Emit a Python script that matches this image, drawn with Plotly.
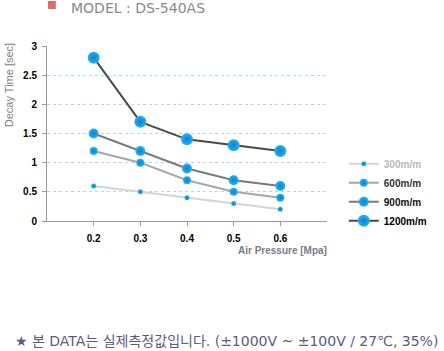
import plotly.graph_objects as go

pressure = [0.2, 0.3, 0.4, 0.5, 0.6]
series_names = ["300m/m", "600m/m", "900m/m", "1200m/m"]
decay_300 = [0.6, 0.5, 0.4, 0.3, 0.2]
decay_600 = [1.2, 1.0, 0.7, 0.5, 0.4]
decay_900 = [1.5, 1.2, 0.9, 0.7, 0.6]
decay_1200 = [2.8, 1.7, 1.4, 1.3, 1.2]
y_ticks = [0, 0.5, 1, 1.5, 2, 2.5, 3]
y_tick_text = ["<b>0</b>", "<b>0.5</b>", "<b>1</b>", "<b>1.5</b>", "<b>2</b>", "<b>2.5</b>", "<b>3</b>"]
x_ticks = [0.2, 0.3, 0.4, 0.5, 0.6]
x_tick_text = ["<b>0.2</b>", "<b>0.3</b>", "<b>0.4</b>", "<b>0.5</b>", "<b>0.6</b>"]

series = [decay_300, decay_600, decay_900, decay_1200]
line_colors = ["#d4d4d4", "#a6a6a6", "#7a7a7a", "#4a4a4a"]
marker_sizes = [5, 8, 10, 12]
legend_colors = ["#b8b8b8", "#333333", "#111111", "#000000"]

fig = go.Figure()
for name, vals, lc, ms, tc in zip(series_names, series, line_colors, marker_sizes, legend_colors):
    fig.add_trace(go.Scatter(
        x=pressure, y=vals, mode="lines+markers",
        name=f"<span style='color:{tc}'><b>{name}</b></span>",
        line=dict(color=lc, width=2),
        marker=dict(size=ms, color="#27b3ee",
                    gradient=dict(type="radial", color="#0a7fcf"),
                    line=dict(width=0)),
    ))

tickfont = dict(size=10, family="Liberation Sans, Arial, sans-serif", color="#000")
fig.update_layout(
    width=444, height=351,
    margin=dict(l=47, r=111, t=46, b=130),
    plot_bgcolor="white", paper_bgcolor="white",
    font=dict(family="Liberation Sans, Arial, sans-serif", color="#000"),
    showlegend=True,
    legend=dict(x=1.06, y=0.41, xanchor="left", yanchor="top",
                font=dict(size=10, family="Liberation Sans, Arial, sans-serif"),
                itemwidth=30, tracegroupgap=0, bgcolor="rgba(0,0,0,0)"),
    xaxis=dict(range=[0.1, 0.7], tickvals=x_ticks, ticktext=x_tick_text,
               showgrid=False, zeroline=False, showline=True, linecolor="#9a9a9a",
               linewidth=1, ticks="outside", ticklen=4, tickcolor="#9a9a9a",
               ticklabelstandoff=4, tickfont=tickfont),
    yaxis=dict(range=[0, 3], tickvals=y_ticks, ticktext=y_tick_text,
               showgrid=True, gridcolor="#a9dcef", griddash="dot", gridwidth=1,
               zeroline=False, showline=True, linecolor="#9a9a9a", linewidth=1,
               ticks="outside", ticklen=4, tickcolor="#9a9a9a",
               ticklabelstandoff=3, tickfont=tickfont),
)

fig.add_annotation(text="Decay Time [sec]", textangle=-90, xref="paper", yref="paper",
                   x=-0.135, y=(221 - 85) / 175, xanchor="center", yanchor="middle", showarrow=False,
                   font=dict(size=11, color="#808080", family="Liberation Sans, Arial, sans-serif"))
fig.add_annotation(text="<b>Air Pressure [Mpa]</b>", xref="paper", yref="paper",
                   x=(335 - 47) / 286, y=(221 - 250) / 175, xanchor="right", yanchor="middle",
                   showarrow=False,
                   font=dict(size=10, color="#7a7a8a", family="Liberation Sans, Arial, sans-serif"))
fig.add_annotation(text="MODEL : DS-540AS", xref="paper", yref="paper",
                   x=(69 - 47) / 286, y=(221 - 7.5) / 175, xanchor="left", yanchor="middle",
                   showarrow=False,
                   font=dict(size=14, color="#8a8a8a", family="DejaVu Sans, sans-serif"))
fig.add_shape(type="rect", xref="paper", yref="paper",
              x0=(48 - 47) / 286, x1=(56 - 47) / 286, y0=(221 - 9) / 175, y1=(221 - 1) / 175,
              fillcolor="#e06a6a", line=dict(width=0))
fig.add_annotation(text="★ 본 DATA는 실제측정값입니다. (±1000V ~ ±100V / 27℃, 35%)",
                   xref="paper", yref="paper", x=(12 - 47) / 286, y=(221 - 341) / 175,
                   xanchor="left", yanchor="middle", showarrow=False,
                   font=dict(size=14, color="#5c5c7c", family="DejaVu Sans, Noto Sans CJK KR, sans-serif"))

fig.write_html("out.html")
